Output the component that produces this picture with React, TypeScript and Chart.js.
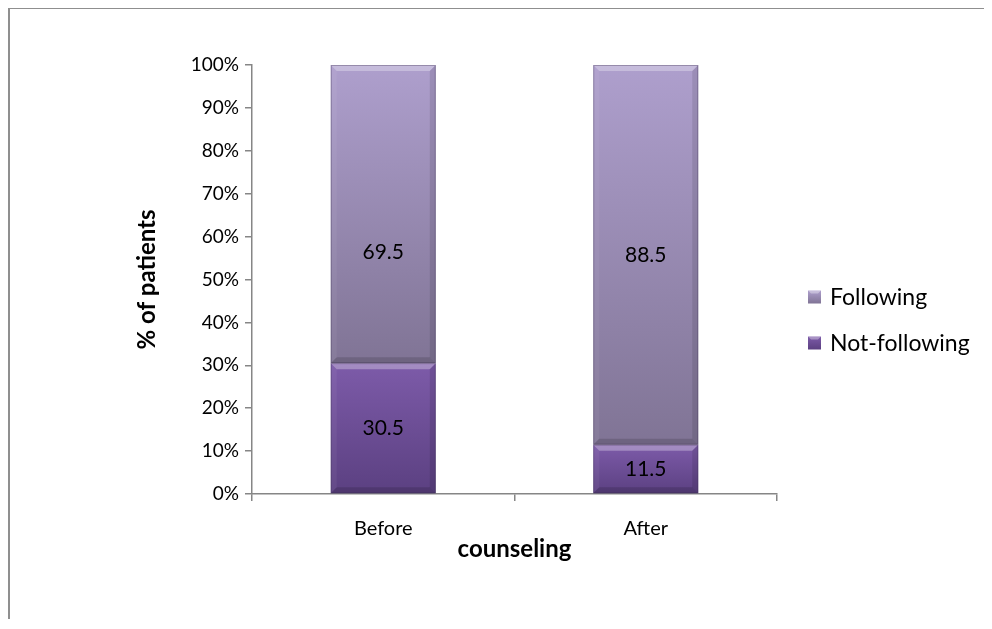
import React, { useEffect, useRef } from "react";
import { Chart, registerables } from "chart.js";

Chart.register(...registerables);

const categories = ["Before", "After"];
const notFollowing = [30.5, 11.5];
const following = [69.5, 88.5];
const seriesNames = ["Not-following", "Following"];
const yTickValues = [0, 10, 20, 30, 40, 50, 60, 70, 80, 90, 100];

const FONT = "Lato, 'Open Sans', sans-serif";
const AXIS = "#868686";

const COLORS = {
  following: { top: "#ae9fcd", bottom: "#807495" },
  notFollowing: { top: "#7d5ba9", bottom: "#5b4081" },
};

function segGradient(ctx: any, top: string, bottom: string, dsIndex: number) {
  const chart = ctx.chart;
  const y = chart.scales && chart.scales.y;
  if (!y || ctx.type !== "data") return bottom;
  const i = ctx.dataIndex;
  let start = 0;
  for (let d = 0; d < dsIndex; d++) start += chart.data.datasets[d].data[i];
  const end = start + chart.data.datasets[dsIndex].data[i];
  const y0 = y.getPixelForValue(start);
  const y1 = y.getPixelForValue(end);
  if (!isFinite(y0) || !isFinite(y1) || y0 === y1) return bottom;
  const g = chart.ctx.createLinearGradient(0, y1, 0, y0);
  g.addColorStop(0, top);
  g.addColorStop(1, bottom);
  return g;
}

const bevelPlugin = {
  id: "bevel",
  afterDatasetsDraw(chart: any) {
    const ctx = chart.ctx;
    chart.data.datasets.forEach((_ds: any, di: number) => {
      const meta = chart.getDatasetMeta(di);
      meta.data.forEach((el: any) => {
        const { x, y, base, width } = el.getProps(["x", "y", "base", "width"], true);
        const l = x - width / 2;
        const r = x + width / 2;
        const t = Math.min(y, base);
        const b = Math.max(y, base);
        const s = Math.min(6, (b - t) / 2);
        ctx.save();
        ctx.fillStyle = "rgba(255,255,255,0.30)";
        ctx.beginPath();
        ctx.moveTo(l, t); ctx.lineTo(r, t); ctx.lineTo(r - s, t + s); ctx.lineTo(l + s, t + s); ctx.closePath();
        ctx.fill();
        ctx.fillStyle = "rgba(255,255,255,0.05)";
        ctx.beginPath();
        ctx.moveTo(l, t); ctx.lineTo(l + s, t + s); ctx.lineTo(l + s, b - s); ctx.lineTo(l, b); ctx.closePath();
        ctx.fill();
        ctx.fillStyle = "rgba(0,0,0,0.10)";
        ctx.beginPath();
        ctx.moveTo(r, t); ctx.lineTo(r - s, t + s); ctx.lineTo(r - s, b - s); ctx.lineTo(r, b); ctx.closePath();
        ctx.fill();
        ctx.fillStyle = "rgba(0,0,0,0.14)";
        ctx.beginPath();
        ctx.moveTo(l, b); ctx.lineTo(r, b); ctx.lineTo(r - s, b - s); ctx.lineTo(l + s, b - s); ctx.closePath();
        ctx.fill();
        ctx.strokeStyle = "rgba(60,50,80,0.35)";
        ctx.lineWidth = 1;
        ctx.strokeRect(l + 0.5, t + 0.5, r - l - 1, b - t - 1);
        ctx.restore();
      });
    });
  },
};

const labelPlugin = {
  id: "segLabels",
  afterDatasetsDraw(chart: any, _args: any, opts: any) {
    const ctx = chart.ctx;
    const nudge = (opts && opts.nudge) || {};
    ctx.save();
    ctx.font = `21px ${FONT}`;
    ctx.fillStyle = "#000";
    ctx.textAlign = "center";
    ctx.textBaseline = "middle";
    chart.data.datasets.forEach((ds: any, di: number) => {
      const meta = chart.getDatasetMeta(di);
      meta.data.forEach((el: any, i: number) => {
        const { x, y, base } = el.getProps(["x", "y", "base"], true);
        const dy = nudge[`${di}-${i}`] || 0;
        ctx.fillText(String(ds.data[i]), x, (y + base) / 2 + dy);
      });
    });
    ctx.restore();
  },
};

const legendPlugin = {
  id: "sideLegend",
  afterDraw(chart: any) {
    const ctx = chart.ctx;
    const area = chart.chartArea;
    const cy = (area.top + area.bottom) / 2;
    const items = [
      { text: seriesNames[1], c: COLORS.following, dy: 17 },
      { text: seriesNames[0], c: COLORS.notFollowing, dy: 63 },
    ];
    ctx.save();
    ctx.font = `23px ${FONT}`;
    ctx.textBaseline = "middle";
    ctx.textAlign = "left";
    items.forEach((it) => {
      const bx = area.right + 31;
      const by = cy + it.dy - 6;
      const g = ctx.createLinearGradient(0, by, 0, by + 13);
      g.addColorStop(0, it.c.top);
      g.addColorStop(1, it.c.bottom);
      ctx.fillStyle = g;
      ctx.fillRect(bx, by, 13, 13);
      ctx.fillStyle = "rgba(255,255,255,0.35)";
      ctx.beginPath();
      ctx.moveTo(bx, by); ctx.lineTo(bx + 13, by); ctx.lineTo(bx + 10, by + 3); ctx.lineTo(bx + 3, by + 3); ctx.closePath();
      ctx.fill();
      ctx.fillStyle = "#000";
      ctx.fillText(it.text, bx + 22, cy + it.dy + 1);
    });
    ctx.restore();
  },
};

export default function App() {
  const ref = useRef<HTMLCanvasElement>(null);
  useEffect(() => {
    if (!ref.current) return;
    const chart = new Chart(ref.current, {
      type: "bar",
      data: {
        labels: categories,
        datasets: [
          {
            label: seriesNames[0],
            data: notFollowing,
            backgroundColor: (c: any) => segGradient(c, COLORS.notFollowing.top, COLORS.notFollowing.bottom, 0),
            barPercentage: 0.4,
            categoryPercentage: 1,
          },
          {
            label: seriesNames[1],
            data: following,
            backgroundColor: (c: any) => segGradient(c, COLORS.following.top, COLORS.following.bottom, 1),
            barPercentage: 0.4,
            categoryPercentage: 1,
          },
        ],
      },
      options: {
        animation: false,
        responsive: false,
        layout: { padding: { top: 56, right: 215, left: 123, bottom: 55 } },
        plugins: {
          legend: { display: false },
          tooltip: { enabled: false },
          segLabels: { nudge: { "1-0": 38 } },
        } as any,
        scales: {
          x: {
            stacked: true,
            afterFit: (s: any) => { s.height = 70; },
            grid: { display: true, drawOnChartArea: false, drawTicks: true, tickLength: 7, offset: true, color: AXIS, lineWidth: 1.5 },
            border: { display: true, color: AXIS, width: 1.5 },
            ticks: { color: "#000", font: { family: FONT, size: 20 }, padding: 16 },
            title: { display: true, text: "counseling", color: "#000", font: { family: FONT, size: 24, weight: "bold" }, padding: 0 },
          },
          y: {
            stacked: true,
            min: 0,
            max: 100,
            afterFit: (s: any) => { s.width = 119; },
            afterBuildTicks: (s: any) => { s.ticks = yTickValues.map((v) => ({ value: v })); },
            grid: { display: true, drawOnChartArea: false, drawTicks: true, tickLength: 7, color: AXIS, lineWidth: 1.5 },
            border: { display: true, color: AXIS, width: 1.5 },
            ticks: { color: "#000", font: { family: FONT, size: 19 }, padding: 6, callback: (v: any) => `${v}%` },
            title: { display: true, text: "% of patients", color: "#000", font: { family: FONT, size: 24, weight: "bold" }, padding: 0 },
          },
        },
      } as any,
      plugins: [bevelPlugin, labelPlugin, legendPlugin],
    });
    return () => chart.destroy();
  }, []);
  return (
    <div
      style={{
        marginTop: -1,
        width: 984,
        height: 612,
        boxSizing: "border-box",
        borderTop: "2px solid #8f8f8f",
        borderLeft: "2px solid #8f8f8f",
      }}
    >
      <canvas ref={ref} width={982} height={610} style={{ display: "block" }} />
    </div>
  );
}
